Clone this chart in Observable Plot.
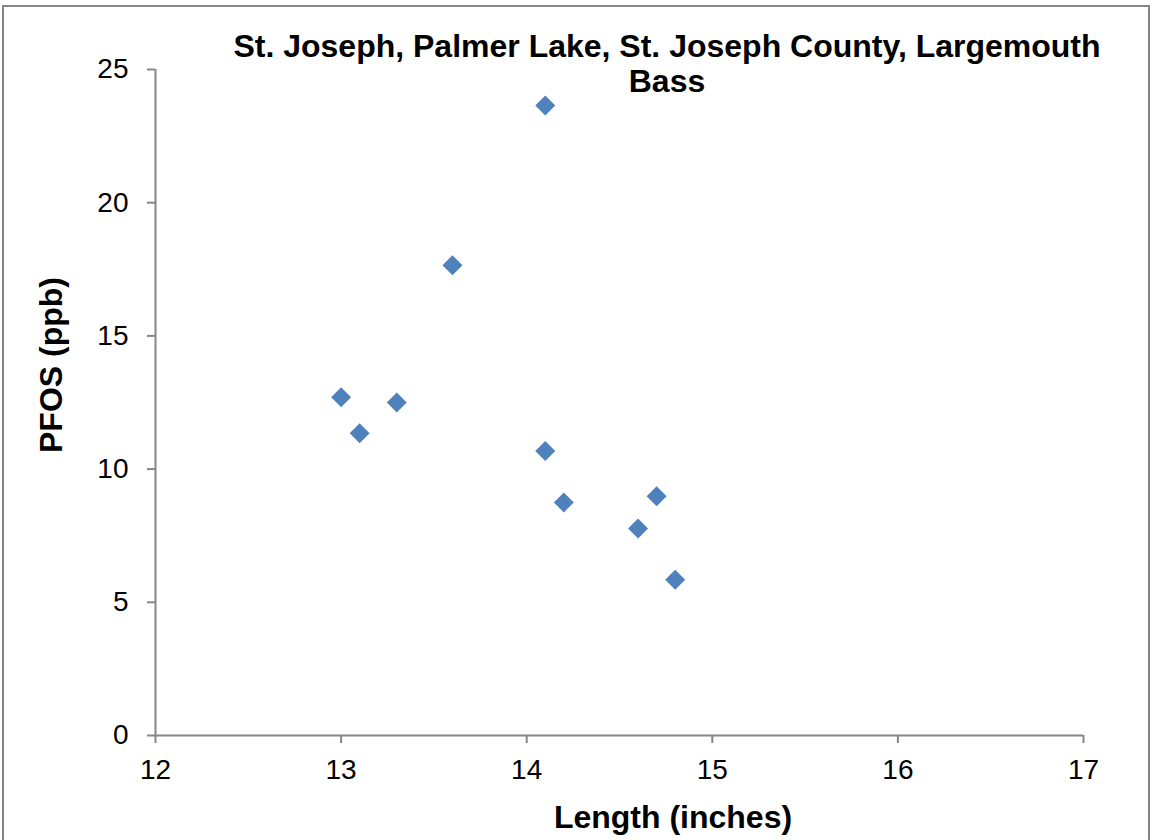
<!DOCTYPE html>
<html>
<head>
<meta charset="utf-8">
<script src="https://cdn.jsdelivr.net/npm/d3@7"></script>
<script src="https://cdn.jsdelivr.net/npm/@observablehq/plot@0.6"></script>
<style>
  html, body { margin: 0; padding: 0; background: #fff; }
  #wrap { position: relative; width: 1156px; height: 840px; overflow: hidden; font-family: "Liberation Sans", Arial, sans-serif; }
  #frame { position: absolute; left: 2px; top: 5px; width: 1148px; height: 850px; border: 2px solid #868686; box-sizing: border-box; pointer-events: none; }
  #title { position: absolute; left: 167px; top: 29px; width: 1000px; text-align: center; font-weight: bold; font-size: 32px; line-height: 35px; color: #000; }
  svg { position: absolute; left: 0; top: 0; }
</style>
</head>
<body>
<div id="wrap">
  <div id="chart"></div>
  <div id="frame"></div>
  <div id="title">St. Joseph, Palmer Lake, St. Joseph County, Largemouth<br>Bass</div>
</div>
<script>
const lengthInches = [13.0, 13.1, 13.3, 13.6, 14.1, 14.1, 14.2, 14.6, 14.7, 14.8];
const pfosPpb      = [12.7, 11.35, 12.5, 17.65, 23.65, 10.68, 8.75, 7.77, 8.98, 5.85];
const xTicks = [12, 13, 14, 15, 16, 17];
const yTicks = [0, 5, 10, 15, 20, 25];
const xTitle = "Length (inches)";
const yTitle = "PFOS (ppb)";

const data = lengthInches.map((x, i) => ({x, y: pfosPpb[i]}));
const gray = "#868686";

const plot = Plot.plot({
  width: 1156,
  height: 840,
  marginLeft: 155,
  marginRight: 73,
  marginTop: 69,
  marginBottom: 105,
  style: { fontFamily: "'Liberation Sans', Arial, sans-serif", background: "transparent", color: "#000" },
  x: { domain: [12, 17] },
  y: { domain: [0, 25] },
  marks: [
    Plot.axisX({ ticks: xTicks, tickSize: 8, tickPadding: 16, stroke: gray, strokeWidth: 2, fill: "#000", fontSize: 28, label: null, tickFormat: d => String(d) }),
    Plot.axisY({ ticks: yTicks, tickSize: 8, tickPadding: 19, stroke: gray, strokeWidth: 2, fill: "#000", fontSize: 28, label: null, tickFormat: d => String(d) }),
    Plot.ruleX([12], { stroke: gray, strokeWidth: 2 }),
    Plot.ruleY([0], { stroke: gray, strokeWidth: 2 }),
    Plot.dot(data, { x: "x", y: "y", symbol: "diamond2", r: 9, fill: "#4F81BD", stroke: "none" })
  ]
});
document.getElementById("chart").appendChild(plot);

const svg = d3.select(plot);
svg.append("text")
  .attr("x", 673).attr("y", 828)
  .attr("text-anchor", "middle")
  .attr("font-weight", "bold").attr("font-size", 32)
  .attr("fill", "#000")
  .text(xTitle);
svg.append("text")
  .attr("transform", "translate(62,365) rotate(-90)")
  .attr("text-anchor", "middle")
  .attr("font-weight", "bold").attr("font-size", 32)
  .attr("fill", "#000")
  .text(yTitle);
</script>
</body>
</html>
